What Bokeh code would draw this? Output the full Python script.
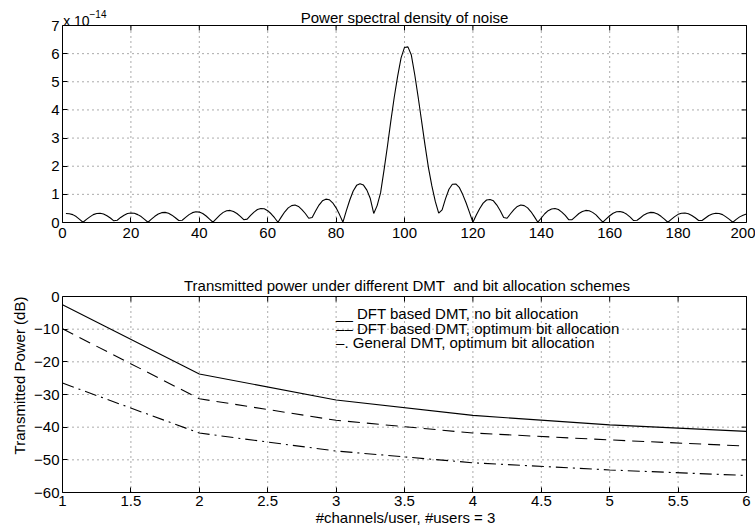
import math
from bokeh.plotting import figure
from bokeh.layouts import column
from bokeh.models import Label, FixedTicker, Range1d, CustomJSTickFormatter
from bokeh.embed import file_html
from bokeh.resources import INLINE

# ---------------- data ----------------
# Top: power spectral density of noise (values in units of 1e-14)
psd_x = list(range(1, 201))
psd_y = [
    0.32, 0.31, 0.28, 0.21, 0.11, 0.01,
    0.11, 0.20, 0.28, 0.32, 0.33, 0.30, 0.24, 0.16, 0.06,
    0.08, 0.18, 0.26, 0.32, 0.34, 0.33, 0.28, 0.21, 0.11, 0.01,
    0.12, 0.22, 0.30, 0.35, 0.36, 0.33, 0.26, 0.17, 0.07,
    0.08, 0.18, 0.28, 0.35, 0.38, 0.37, 0.32, 0.23, 0.12, 0.01,
    0.14, 0.26, 0.36, 0.42, 0.43, 0.39, 0.32, 0.22, 0.10,
    0.12, 0.25, 0.37, 0.46, 0.50, 0.49, 0.42, 0.31, 0.17, 0.01,
    0.20, 0.38, 0.52, 0.60, 0.62, 0.57, 0.46, 0.32, 0.15,
    0.18, 0.41, 0.62, 0.77, 0.83, 0.81, 0.70, 0.52, 0.28, 0.01,
    0.42, 0.80, 1.12, 1.32, 1.38, 1.33, 1.15, 0.85, 0.32,
    0.60, 1.05, 1.85, 2.70, 3.60, 4.45, 5.20, 5.85, 6.22, 6.24,
    5.95, 5.25, 4.45, 3.60, 2.75, 1.95, 1.30, 0.75, 0.33,
    0.45, 0.85, 1.18, 1.36, 1.37, 1.25, 1.00, 0.70, 0.36, 0.01,
    0.27, 0.50, 0.69, 0.80, 0.82, 0.77, 0.62, 0.42, 0.18,
    0.15, 0.31, 0.46, 0.57, 0.62, 0.60, 0.52, 0.38, 0.20, 0.01,
    0.16, 0.31, 0.42, 0.48, 0.50, 0.46, 0.37, 0.25, 0.10,
    0.10, 0.21, 0.32, 0.39, 0.43, 0.42, 0.36, 0.27, 0.14, 0.01,
    0.13, 0.24, 0.33, 0.38, 0.39, 0.36, 0.29, 0.19, 0.07,
    0.08, 0.17, 0.27, 0.33, 0.36, 0.35, 0.30, 0.22, 0.12, 0.01,
    0.11, 0.21, 0.29, 0.33, 0.34, 0.31, 0.25, 0.17, 0.07,
    0.07, 0.16, 0.25, 0.30, 0.33, 0.32, 0.28, 0.20, 0.11, 0.01,
    0.11, 0.20, 0.26, 0.30,
]
top_xticks = [0, 20, 40, 60, 80, 100, 120, 140, 160, 180, 200]
top_yticks = [0, 1, 2, 3, 4, 5, 6, 7]

# Bottom: transmitted power (dB)
channels = [1, 2, 3, 4, 5, 6]
dft_no_alloc = [-2.5, -23.7, -31.7, -36.4, -39.3, -41.3]
dft_opt_alloc = [-9.9, -31.3, -37.9, -41.8, -43.9, -45.8]
gen_opt_alloc = [-26.5, -41.8, -47.3, -50.9, -53.1, -54.8]
bot_xticks = [1, 1.5, 2, 2.5, 3, 3.5, 4, 4.5, 5, 5.5, 6]
bot_yticks = [-60, -50, -40, -30, -20, -10, 0]
legend_labels = [
    "__ DFT based DMT, no bit allocation",
    "\u2013\u2013 DFT based DMT, optimum bit allocation",
    "\u2013. General DMT, optimum bit allocation",
]

top_title = "Power spectral density of noise"
top_scale_base = "x 10"
top_scale_exp = "\u221214"
bot_title = "Transmitted power under different DMT\u00a0 and bit allocation schemes"
bot_xlabel = "#channels/user, #users = 3"
bot_ylabel = "Transmitted Power (dB)"

FONT = "Liberation Sans"
FS = "15px"
fmt_code = "return (tick < 0 ? '\\u2212' : '') + Math.abs(tick).toString();"
W = 755
TICK = 5  # inward tick length in px


def make_panel(height, xr, yr, xticks, yticks, left, right, top_px, bottom_px):
    """Frame covers the plotting box plus a band of top_px pixels above it."""
    x0, x1 = xr
    y0, y1 = yr
    frame_w = W - left - right
    frame_h = height - bottom_px
    pxx = (frame_w - 2) / (x1 - x0)          # keep 2px for the right border line
    pxu = (frame_h - top_px) / (y1 - y0)
    p = figure(width=W, height=height,
               x_range=Range1d(x0, x1 + 2 / pxx), y_range=Range1d(y0, y1 + top_px / pxu),
               output_backend="svg", toolbar_location=None,
               min_border_left=left, min_border_right=right, min_border_top=0,
               min_border_bottom=bottom_px)
    p.title.visible = False
    p.outline_line_color = None
    p.background_fill_color = "white"
    p.border_fill_color = "white"
    p.xgrid.visible = False
    p.ygrid.visible = False
    xa, ya = p.xaxis[0], p.yaxis[0]
    xa.ticker = FixedTicker(ticks=xticks)
    ya.ticker = FixedTicker(ticks=yticks)
    xa.bounds = (x0, x1)
    ya.bounds = (y0, y1)
    for ax in (xa, ya):
        ax.formatter = CustomJSTickFormatter(code=fmt_code)
        ax.major_tick_in = TICK
        ax.major_tick_out = 0
        ax.minor_tick_in = 0
        ax.minor_tick_out = 0
        ax.axis_line_color = "black"
        ax.major_tick_line_color = "black"
        ax.major_label_text_font = FONT
        ax.major_label_text_font_size = FS
        ax.major_label_text_color = "black"
        ax.axis_label_text_font = FONT
        ax.axis_label_text_font_size = FS
        ax.axis_label_text_font_style = "normal"
        ax.axis_label_text_color = "black"
    xa.major_label_standoff = 5
    ya.major_label_standoff = 3
    # dotted grid inside the box
    gx = [t for t in xticks if x0 < t < x1]
    gy = [t for t in yticks if y0 < t < y1]
    p.segment(x0=gx, y0=[y0] * len(gx), x1=gx, y1=[y1] * len(gx),
              line_color="#222222", line_dash="1 4", line_width=1, line_alpha=0.75)
    p.segment(x0=[x0] * len(gy), y0=gy, x1=[x1] * len(gy), y1=gy,
              line_color="#222222", line_dash="1 4", line_width=1, line_alpha=0.75)
    # top and right border of the box
    p.segment(x0=[x0, x1], y0=[y1, y0], x1=[x1, x1], y1=[y1, y1],
              line_color="black", line_width=1)
    # inward ticks on the top and right borders
    p.segment(x0=xticks, y0=[y1] * len(xticks), x1=xticks, y1=[y1 - TICK / pxu] * len(xticks),
              line_color="black", line_width=1)
    p.segment(x0=[x1] * len(yticks), y0=yticks, x1=[x1 - TICK / pxx] * len(yticks), y1=yticks,
              line_color="black", line_width=1)
    return p, pxx, pxu


# ---------------- top figure ----------------
H1 = 258
p1, pxx_t, pxu_t = make_panel(H1, (0, 200), (0, 7), top_xticks, top_yticks,
                              left=62, right=7, top_px=25, bottom_px=36)
p1.line(psd_x, psd_y, line_color="black", line_width=1.1)

# texts above the box (baselines in px above the box top)
p1.add_layout(Label(x=100, y=7 + 8 / pxu_t, text=top_title, text_align="center",
                    text_baseline="alphabetic", text_font=FONT, text_font_size=FS,
                    text_color="black"))
p1.add_layout(Label(x=0.2, y=7 + 5 / pxu_t, text=top_scale_base, text_align="left",
                    text_baseline="alphabetic", text_font=FONT, text_font_size="14px",
                    text_color="black"))
p1.add_layout(Label(x=27 / pxx_t, y=7 + 12 / pxu_t, text=top_scale_exp, text_align="left",
                    text_baseline="alphabetic", text_font=FONT, text_font_size="10px",
                    text_color="black"))

# ---------------- bottom figure ----------------
H2 = 271
p2, pxx_b, pxu_b = make_panel(H2, (1, 6), (-60, 0), bot_xticks, bot_yticks,
                              left=61, right=7, top_px=38, bottom_px=37)
p2.line(channels, dft_no_alloc, line_color="black", line_width=1.1)
p2.line(channels, dft_opt_alloc, line_color="black", line_width=1.1, line_dash="12 7")
p2.line(channels, gen_opt_alloc, line_color="black", line_width=1.1, line_dash="12 5 2 5")

p2.xaxis[0].axis_label = bot_xlabel
p2.xaxis[0].axis_label_standoff = 0
p2.xaxis[0].major_label_standoff = 3
p2.yaxis[0].axis_label = bot_ylabel
p2.yaxis[0].axis_label_standoff = 3

p2.add_layout(Label(x=3.518, y=11 / pxu_b, text=bot_title, text_align="center",
                    text_baseline="alphabetic", text_font=FONT, text_font_size=FS,
                    text_color="black"))
for i, t in enumerate(legend_labels):
    base_px = 17 + i * 14.7
    p2.add_layout(Label(x=1 + 274 / pxx_b, y=-base_px / pxu_b, text=t, text_align="left",
                        text_baseline="alphabetic", text_font=FONT, text_font_size=FS,
                        text_color="black"))

layout = column(p1, p2, spacing=0)
open("out.html", "w").write(file_html(layout, INLINE))
